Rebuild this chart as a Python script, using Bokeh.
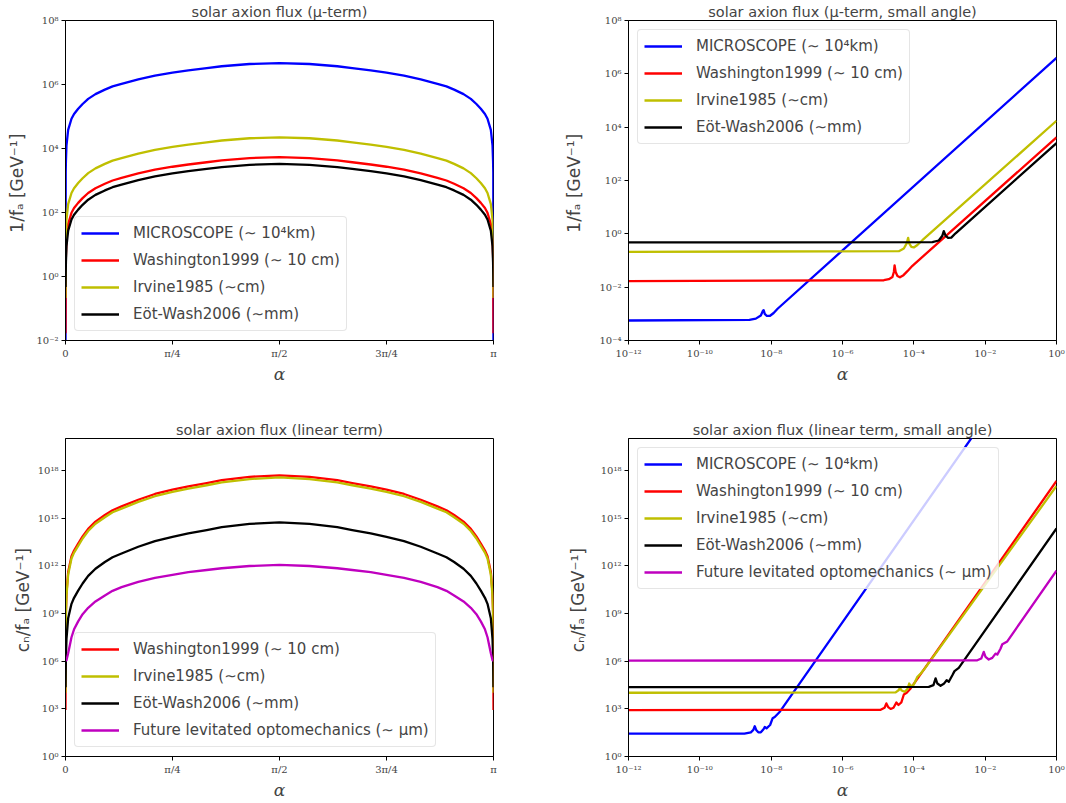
import numpy as np
from bokeh.plotting import figure
from bokeh.layouts import column, row
from bokeh.models import Range1d, FixedTicker, CustomJSTickFormatter, Legend, LegendItem
from bokeh.embed import file_html
from bokeh.resources import INLINE

# ------------------------------------------------------------------ data
# full-range panels: angle alpha in units of pi, values as decimal exponents
alpha_over_pi = [0, 0.0005, 0.001, 0.0023, 0.0062, 0.014, 0.02, 0.0296, 0.04, 0.053, 0.07, 0.092, 0.11, 0.131,
                 0.17, 0.209, 0.25, 0.287, 0.33, 0.365, 0.43, 0.5,
                 0.57, 0.635, 0.67, 0.713, 0.75, 0.791, 0.83, 0.869, 0.89, 0.908, 0.93, 0.947, 0.96, 0.9704,
                 0.98, 0.986, 0.9938, 0.9977, 0.999, 0.9995, 1.0]

mu_microscope_exp = [-3.25, 3.25, 3.60, 4.10, 4.58, 4.93, 5.08, 5.24, 5.39, 5.55, 5.70, 5.84, 5.94, 6.02,
                     6.16, 6.28, 6.37, 6.44, 6.51, 6.57, 6.64, 6.67,
                     6.64, 6.57, 6.51, 6.44, 6.37, 6.28, 6.16, 6.02, 5.94, 5.84, 5.70, 5.55, 5.39, 5.24,
                     5.08, 4.93, 4.58, 4.10, 3.60, 3.25, -3.25]
mu_washington_exp = [-1.77, 0.31, 0.66, 1.16, 1.64, 1.99, 2.14, 2.30, 2.45, 2.61, 2.76, 2.90, 3.00, 3.08,
                     3.22, 3.34, 3.43, 3.50, 3.57, 3.63, 3.70, 3.73,
                     3.70, 3.63, 3.57, 3.50, 3.43, 3.34, 3.22, 3.08, 3.00, 2.90, 2.76, 2.61, 2.45, 2.30,
                     2.14, 1.99, 1.64, 1.16, 0.66, 0.31, -1.77]
mu_irvine_exp = [-0.675, 0.93, 1.28, 1.78, 2.26, 2.61, 2.76, 2.92, 3.07, 3.23, 3.38, 3.52, 3.62, 3.70,
                 3.84, 3.96, 4.05, 4.12, 4.19, 4.25, 4.32, 4.35,
                 4.32, 4.25, 4.19, 4.12, 4.05, 3.96, 3.84, 3.70, 3.62, 3.52, 3.38, 3.23, 3.07, 2.92,
                 2.76, 2.61, 2.26, 1.78, 1.28, 0.93, -0.675]
mu_eotwash_exp = [-0.33, 0.10, 0.45, 0.95, 1.43, 1.78, 1.93, 2.09, 2.24, 2.40, 2.55, 2.69, 2.79, 2.87,
                  3.01, 3.13, 3.22, 3.29, 3.36, 3.42, 3.49, 3.52,
                  3.49, 3.42, 3.36, 3.29, 3.22, 3.13, 3.01, 2.87, 2.79, 2.69, 2.55, 2.40, 2.24, 2.09,
                  1.93, 1.78, 1.43, 0.95, 0.45, 0.10, -0.33]

lin_washington_exp = [2.92, 8.1, 9.1, 10.25, 11.6, 12.6, 12.95, 13.39, 13.84, 14.32, 14.77, 15.19, 15.49, 15.73,
                      16.15, 16.51, 16.78, 16.99, 17.20, 17.38, 17.59, 17.68,
                      17.59, 17.38, 17.20, 16.99, 16.78, 16.51, 16.15, 15.73, 15.49, 15.19, 14.77, 14.32, 13.84, 13.39,
                      12.95, 12.6, 11.6, 10.25, 9.1, 8.1, 2.92]
lin_irvine_exp = [4.01, 7.95, 8.95, 10.1, 11.45, 12.45, 12.82, 13.25, 13.71, 14.18, 14.64, 15.05, 15.36, 15.59,
                  16.01, 16.37, 16.64, 16.85, 17.06, 17.24, 17.45, 17.55,
                  17.45, 17.24, 17.06, 16.85, 16.64, 16.37, 16.01, 15.59, 15.36, 15.05, 14.64, 14.18, 13.71, 13.25,
                  12.82, 12.45, 11.45, 10.1, 8.95, 7.95, 4.01]
lin_eotwash_exp = [4.36, 5.4, 6.3, 7.4, 8.7, 9.6, 9.98, 10.43, 10.88, 11.36, 11.81, 12.23, 12.53, 12.77,
                   13.19, 13.55, 13.82, 14.03, 14.24, 14.42, 14.63, 14.72,
                   14.63, 14.42, 14.24, 14.03, 13.82, 13.55, 13.19, 12.77, 12.53, 12.23, 11.81, 11.36, 10.88, 10.43,
                   9.98, 9.6, 8.7, 7.4, 6.3, 5.4, 4.36]
lin_future_exp = [6.03, 6.03, 6.03, 6.05, 6.5, 7.5, 8.0, 8.5, 8.95, 9.35, 9.75, 10.13, 10.42, 10.65,
                  10.98, 11.23, 11.43, 11.59, 11.73, 11.84, 11.98, 12.05,
                  11.98, 11.84, 11.73, 11.59, 11.43, 11.23, 10.98, 10.65, 10.42, 10.13, 9.75, 9.35, 8.95, 8.5,
                  8.0, 7.5, 6.5, 6.05, 6.03, 6.03, 6.03]

# small-angle panels: decimal exponents of alpha and of the value
mu_small_microscope_ax = [-12, -8.61, -8.43, -8.29, -8.23, -8.21, -8.18, -8.12, -8.04, -7.93, -7.82, 0]
mu_small_microscope_ay = [-3.25, -3.23, -3.18, -3.06, -2.88, -2.86, -3.00, -3.08, -3.08, -2.97, -2.81, 6.60]
mu_small_washington_ax = [-12, -4.84, -4.70, -4.60, -4.56, -4.54, -4.51, -4.46, -4.39, -4.29, -4.18, -4.04, 0]
mu_small_washington_ay = [-1.77, -1.74, -1.70, -1.62, -1.43, -1.18, -1.43, -1.58, -1.63, -1.55, -1.40, -1.20, 3.62]
mu_small_irvine_ax = [-12, -4.42, -4.28, -4.20, -4.16, -4.13, -4.07, -4.00, -3.90, -3.76, 0]
mu_small_irvine_ay = [-0.675, -0.65, -0.55, -0.36, -0.15, -0.36, -0.49, -0.51, -0.42, -0.24, 4.24]
mu_small_eotwash_ax = [-12, -3.48, -3.30, -3.20, -3.16, -3.11, -3.04, -2.95, -2.83, 0]
mu_small_eotwash_ay = [-0.324, -0.31, -0.25, -0.07, 0.10, -0.07, -0.15, -0.14, 0.02, 3.40]

lin_small_microscope_ax = [-12, -8.75, -8.57, -8.50, -8.46, -8.42, -8.36, -8.29, -8.21, -8.18, -8.13, -8.03, -7.96, -7.90, -7.77, -2.08]
lin_small_microscope_ay = [1.44, 1.44, 1.52, 1.67, 1.90, 1.67, 1.52, 1.52, 1.73, 1.86, 1.77, 1.98, 2.40, 2.48, 2.78, 21.0]
lin_small_washington_ax = [-12, -4.93, -4.82, -4.77, -4.72, -4.65, -4.57, -4.49, -4.43, -4.35, -4.28, -4.20, -4.09, 0]
lin_small_washington_ay = [2.92, 2.94, 3.07, 3.34, 3.11, 2.99, 3.07, 3.40, 3.24, 3.40, 3.90, 4.01, 4.28, 17.33]
lin_small_irvine_ax = [-12, -4.51, -4.42, -4.39, -4.34, -4.26, -4.18, -4.13, -4.08, -4.00, -3.90, -3.83, -3.72, 0]
lin_small_irvine_ay = [4.01, 4.03, 4.18, 4.32, 4.15, 4.07, 4.24, 4.59, 4.41, 4.53, 5.01, 5.16, 5.45, 17.01]
lin_small_eotwash_ax = [-12, -3.58, -3.45, -3.39, -3.34, -3.25, -3.16, -3.08, -3.02, -2.92, -2.86, -2.74, 0]
lin_small_eotwash_ay = [4.36, 4.38, 4.49, 4.91, 4.59, 4.45, 4.57, 4.80, 4.70, 5.11, 5.37, 5.57, 14.34]
lin_small_future_ax = [-12, -2.22, -2.11, -2.04, -1.99, -1.90, -1.80, -1.71, -1.66, -1.57, -1.52, -1.38, 0]
lin_small_future_ay = [6.03, 6.05, 6.16, 6.58, 6.26, 6.10, 6.20, 6.47, 6.41, 6.78, 7.06, 7.24, 11.69]

# ticks and labels
angle_ticks = [0, 0.25, 0.5, 0.75, 1.0]
angle_tick_labels = ["0", "π/4", "π/2", "3π/4", "π"]
mu_y_ticks = [1e-2, 1e0, 1e2, 1e4, 1e6, 1e8]
mu_small_y_ticks = [1e-4, 1e-2, 1e0, 1e2, 1e4, 1e6, 1e8]
lin_y_ticks = [1e0, 1e3, 1e6, 1e9, 1e12, 1e15, 1e18]
small_x_ticks = [1e-12, 1e-10, 1e-8, 1e-6, 1e-4, 1e-2, 1e0]

labels = {
    "microscope": "MICROSCOPE (∼ 10⁴km)",
    "washington": "Washington1999 (∼ 10 cm)",
    "irvine": "Irvine1985 (∼cm)",
    "eotwash": "Eöt-Wash2006 (∼mm)",
    "future": "Future levitated optomechanics (∼ μm)",
}
titles = ["solar axion flux (μ-term)", "solar axion flux (μ-term, small angle)",
          "solar axion flux (linear term)", "solar axion flux (linear term, small angle)"]
ylabel_mu = "1/fₐ  [GeV⁻¹]"
ylabel_lin = "cₙ/fₐ  [GeV⁻¹]"
xlabel = "α"

# ------------------------------------------------------------------ style
colors = {"microscope": "#0000ff", "washington": "#ff0000", "irvine": "#bfbf00",
          "eotwash": "#000000", "future": "#bf00bf"}
SANS = "DejaVu Sans"
SERIF = "DejaVu Serif"
LW = 2.3

log_fmt_code = """
const e = Math.round(Math.log10(tick));
const m = {"-":"⁻","0":"⁰","1":"¹","2":"²","3":"³","4":"⁴","5":"⁵","6":"⁶","7":"⁷","8":"⁸","9":"⁹"};
return "10" + String(e).split("").map(c => m[c]).join("");
"""


def angle_fmt():
    return CustomJSTickFormatter(args=dict(vals=angle_ticks, labs=angle_tick_labels), code="""
const i = vals.findIndex(v => Math.abs(v - tick) < 1e-9);
return i >= 0 ? labs[i] : "";
""")


def make_fig(title, width, height, xlog, xr, yr, mbl, mbr, mbt, mbb, ylab_standoff):
    p = figure(width=width, height=height, title=title,
               x_axis_type="log" if xlog else "linear", y_axis_type="log",
               x_range=Range1d(*xr), y_range=Range1d(*yr),
               output_backend="svg", toolbar_location=None,
               min_border_left=mbl, min_border_right=mbr, min_border_top=mbt, min_border_bottom=mbb)
    p.title.align = "center"
    p.title.text_font = SANS
    p.title.text_font_size = "14.5px"
    p.title.text_font_style = "normal"
    p.title.standoff = 2
    p.xgrid.visible = False
    p.ygrid.visible = False
    p.outline_line_color = "black"
    p.outline_line_width = 1
    p.outline_line_alpha = 1
    for ax in (p.xaxis[0], p.yaxis[0]):
        ax.axis_line_color = "black"
        ax.major_tick_line_color = "black"
        ax.major_tick_out = 4
        ax.major_tick_in = 0
        ax.minor_tick_line_color = None
        ax.major_label_text_font = SERIF
        ax.major_label_text_font_size = "10px"
        ax.major_label_standoff = 3
    p.xaxis.axis_label = xlabel
    p.xaxis.axis_label_text_font = SERIF
    p.xaxis.axis_label_text_font_style = "italic"
    p.xaxis.axis_label_text_font_size = "17px"
    p.xaxis.axis_label_standoff = 2
    p.yaxis.axis_label_text_font = SANS
    p.yaxis.axis_label_text_font_style = "normal"
    p.yaxis.axis_label_text_font_size = "17px"
    p.yaxis.axis_label_standoff = ylab_standoff
    p.yaxis.formatter = CustomJSTickFormatter(code=log_fmt_code)
    if xlog:
        p.xaxis.formatter = CustomJSTickFormatter(code=log_fmt_code)
    else:
        p.xaxis.formatter = angle_fmt()
    return p


def add_legend(p, items, loc):
    lg = Legend(items=items, location=loc)
    lg.label_text_font = SANS
    lg.label_text_font_size = "15px"
    lg.glyph_width = 38
    lg.glyph_height = 20
    lg.label_height = 20
    lg.label_standoff = 14
    lg.spacing = 7
    lg.padding = 6
    lg.margin = 9
    lg.border_line_color = "#cccccc"
    lg.border_line_width = 1
    lg.background_fill_color = "white"
    lg.background_fill_alpha = 0.8
    if "border_radius" in Legend.properties():
        lg.border_radius = 4
    p.add_layout(lg)


def exp10(a):
    return np.power(10.0, np.asarray(a, dtype=float))


# ------------------------------------------------------------------ panel 1
p1 = make_fig(titles[0], 503, 418, False, (0, 1), (1e-2, 1e8), 65, 10, 20, 78, 6)
p1.yaxis.ticker = FixedTicker(ticks=mu_y_ticks)
p1.xaxis.ticker = FixedTicker(ticks=angle_ticks)
p1.yaxis.axis_label = ylabel_mu
items = []
for key, ys in [("microscope", mu_microscope_exp), ("washington", mu_washington_exp),
                ("irvine", mu_irvine_exp), ("eotwash", mu_eotwash_exp)]:
    r = p1.line(alpha_over_pi, exp10(ys), line_color=colors[key], line_width=LW, line_join="round")
    items.append(LegendItem(label=labels[key], renderers=[r]))
add_legend(p1, items, "bottom_left")

# ------------------------------------------------------------------ panel 2
p2 = make_fig(titles[1], 563, 418, True, (1e-12, 1e0), (1e-4, 1e8), 125, 10, 20, 78, 12)
p2.yaxis.ticker = FixedTicker(ticks=mu_small_y_ticks)
p2.xaxis.ticker = FixedTicker(ticks=small_x_ticks)
p2.yaxis.axis_label = ylabel_mu
items = []
for key, ax_, ay_ in [("microscope", mu_small_microscope_ax, mu_small_microscope_ay),
                      ("washington", mu_small_washington_ax, mu_small_washington_ay),
                      ("irvine", mu_small_irvine_ax, mu_small_irvine_ay),
                      ("eotwash", mu_small_eotwash_ax, mu_small_eotwash_ay)]:
    r = p2.line(exp10(ax_), exp10(ay_), line_color=colors[key], line_width=LW, line_join="round")
    items.append(LegendItem(label=labels[key], renderers=[r]))
add_legend(p2, items, "top_left")

# ------------------------------------------------------------------ panel 3
p3 = make_fig(titles[2], 503, 384, False, (0, 1), (1e0, 1e20), 65, 10, 20, 45, 2)
p3.yaxis.ticker = FixedTicker(ticks=lin_y_ticks)
p3.xaxis.ticker = FixedTicker(ticks=angle_ticks)
p3.yaxis.axis_label = ylabel_lin
items = []
for key, ys in [("washington", lin_washington_exp), ("irvine", lin_irvine_exp),
                ("eotwash", lin_eotwash_exp), ("future", lin_future_exp)]:
    r = p3.line(alpha_over_pi, exp10(ys), line_color=colors[key], line_width=LW, line_join="round")
    items.append(LegendItem(label=labels[key], renderers=[r]))
add_legend(p3, items, "bottom_left")

# ------------------------------------------------------------------ panel 4
p4 = make_fig(titles[3], 563, 384, True, (1e-12, 1e0), (1e0, 1e20), 125, 10, 20, 45, 10)
p4.yaxis.ticker = FixedTicker(ticks=lin_y_ticks)
p4.xaxis.ticker = FixedTicker(ticks=small_x_ticks)
p4.yaxis.axis_label = ylabel_lin
items = []
for key, ax_, ay_ in [("microscope", lin_small_microscope_ax, lin_small_microscope_ay),
                      ("washington", lin_small_washington_ax, lin_small_washington_ay),
                      ("irvine", lin_small_irvine_ax, lin_small_irvine_ay),
                      ("eotwash", lin_small_eotwash_ax, lin_small_eotwash_ay),
                      ("future", lin_small_future_ax, lin_small_future_ay)]:
    r = p4.line(exp10(ax_), exp10(ay_), line_color=colors[key], line_width=LW, line_join="round")
    items.append(LegendItem(label=labels[key], renderers=[r]))
add_legend(p4, items, "top_left")

layout = column(row(p1, p2), row(p3, p4))
open("out.html", "w").write(file_html(layout, INLINE))
